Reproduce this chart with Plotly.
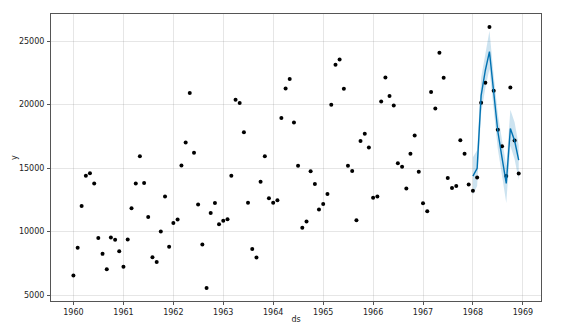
import plotly.graph_objects as go
import pandas as pd

# Observed monthly values (1960-01 .. 1968-12)
obs_dates = pd.date_range("1960-01-01", "1968-12-01", freq="MS").strftime("%Y-%m-%d").tolist()
obs_values = [
    6550, 8728, 12026, 14395, 14587, 13791, 9498, 8251, 7049, 9545, 9364, 8456,
    7237, 9374, 11837, 13784, 15926, 13821, 11143, 7975, 7610, 10015, 12759, 8816,
    10677, 10947, 15200, 17010, 20900, 16205, 12143, 8997, 5568, 11474, 12256, 10583,
    10862, 10965, 14405, 20379, 20128, 17816, 12268, 8642, 7962, 13932, 15936, 12628,
    12267, 12470, 18944, 21259, 22015, 18581, 15175, 10306, 10792, 14752, 13754, 11738,
    12181, 12965, 19990, 23125, 23541, 21247, 15189, 14767, 10895, 17130, 17697, 16611,
    12674, 12760, 20249, 22135, 20677, 19933, 15388, 15113, 13401, 16135, 17562, 14720,
    12225, 11608, 20985, 19692, 24081, 22114, 14220, 13434, 13598, 17187, 16119, 13713,
    13210, 14251, 20139, 21725, 26099, 21084, 18024, 16722, 14385, 21342, 17180, 14577,
]

# Forecast for 1968
fc_dates = pd.date_range("1968-01-01", "1968-12-01", freq="MS").strftime("%Y-%m-%d").tolist()
yhat = [14370, 14980, 20700, 22700, 24160, 20900, 17900, 15800, 13800, 18120, 17150, 15630]
yhat_upper = [15850, 16400, 22100, 24100, 25800, 22300, 19300, 17200, 15200, 19600, 18600, 16800]
yhat_lower = [12900, 13600, 19300, 21300, 22800, 19500, 16500, 14400, 12250, 16750, 15700, 14050]

x_ticks = [f"{y}-01-01" for y in range(1960, 1970)]
x_labels = [str(y) for y in range(1960, 1970)]
y_ticks = [5000, 10000, 15000, 20000, 25000]

blue = "#0072B2"
fig = go.Figure()
fig.add_trace(go.Scatter(x=fc_dates, y=yhat_lower, mode="lines",
                         line=dict(width=0, color=blue), showlegend=False, hoverinfo="skip"))
fig.add_trace(go.Scatter(x=fc_dates, y=yhat_upper, mode="lines", fill="tonexty",
                         fillcolor="rgba(0,114,178,0.2)",
                         line=dict(width=0, color=blue), showlegend=False, hoverinfo="skip"))
fig.add_trace(go.Scatter(x=obs_dates, y=obs_values, mode="markers",
                         marker=dict(color="black", size=4), showlegend=False))
fig.add_trace(go.Scatter(x=fc_dates, y=yhat, mode="lines",
                         line=dict(color=blue, width=1.4), showlegend=False))

axis_common = dict(
    showgrid=True, gridcolor="rgba(128,128,128,0.2)", gridwidth=0.7,
    showline=True, mirror=True, linecolor="#555555", linewidth=1,
    ticks="outside", ticklen=3, tickcolor="#555555", tickwidth=0.8,
    zeroline=False, tickfont=dict(size=8, color="#222222"),
    automargin=False,
)

fig.update_layout(
    width=572, height=332,
    margin=dict(l=51, r=31, t=14, b=31),
    paper_bgcolor="white", plot_bgcolor="white",
    font=dict(family="DejaVu Sans", size=8, color="#222222"),
    xaxis=dict(type="date", range=["1959-07-21", "1969-05-13"],
               tickmode="array", tickvals=x_ticks, ticktext=x_labels,
               ticklabelstandoff=0,
               title=dict(text="ds", font=dict(size=8), standoff=0), **axis_common),
    yaxis=dict(range=[4541, 27126], tickmode="array", tickvals=y_ticks,
               ticktext=[str(v) for v in y_ticks],
               ticklabelstandoff=1,
               title=dict(text="y", font=dict(size=8), standoff=0), **axis_common),
)

fig.write_html("out.html")
